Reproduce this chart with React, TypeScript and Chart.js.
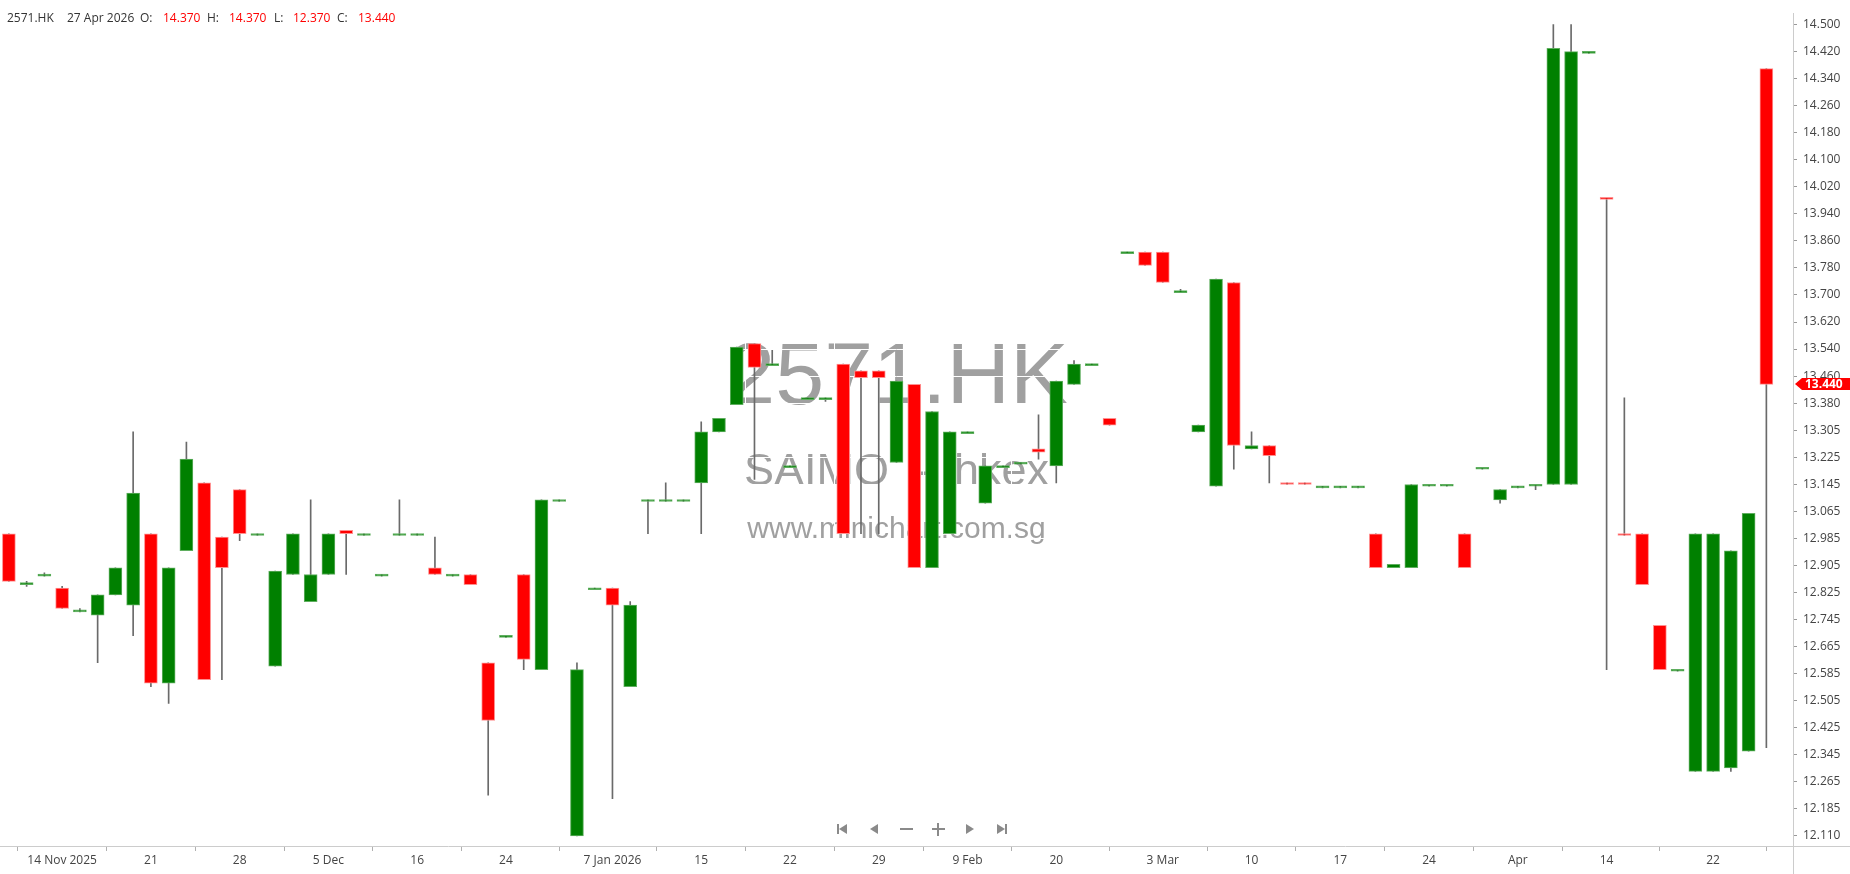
import React, { useEffect, useRef } from 'react';
import { Chart, registerables } from 'chart.js';

Chart.register(...registerables);

// ---------------- data ----------------
const symbol = '2571.HK';
const exchangeMark = 'SAIMO  -  hkex';
const siteMark = 'www.minichart.com.sg';

const dates = [
  '2025-11-11', '2025-11-12', '2025-11-13', '2025-11-14', '2025-11-17', '2025-11-18', '2025-11-19', '2025-11-20', '2025-11-21', '2025-11-24',
  '2025-11-25', '2025-11-26', '2025-11-27', '2025-11-28', '2025-12-01', '2025-12-02', '2025-12-03', '2025-12-04', '2025-12-05', '2025-12-08',
  '2025-12-09', '2025-12-11', '2025-12-15', '2025-12-16', '2025-12-17', '2025-12-19', '2025-12-22', '2025-12-23', '2025-12-24', '2025-12-29',
  '2025-12-30', '2025-12-31', '2026-01-02', '2026-01-05', '2026-01-07', '2026-01-08', '2026-01-09', '2026-01-12', '2026-01-13', '2026-01-15',
  '2026-01-16', '2026-01-19', '2026-01-20', '2026-01-21', '2026-01-22', '2026-01-23', '2026-01-26', '2026-01-27', '2026-01-28', '2026-01-29',
  '2026-01-30', '2026-02-03', '2026-02-04', '2026-02-06', '2026-02-09', '2026-02-10', '2026-02-11', '2026-02-12', '2026-02-16', '2026-02-20',
  '2026-02-23', '2026-02-24', '2026-02-25', '2026-02-27', '2026-03-02', '2026-03-03', '2026-03-04', '2026-03-05', '2026-03-06', '2026-03-09',
  '2026-03-10', '2026-03-11', '2026-03-12', '2026-03-13', '2026-03-16', '2026-03-17', '2026-03-18', '2026-03-19', '2026-03-20', '2026-03-23',
  '2026-03-24', '2026-03-25', '2026-03-26', '2026-03-27', '2026-03-30', '2026-04-01', '2026-04-02', '2026-04-08', '2026-04-09', '2026-04-10',
  '2026-04-14', '2026-04-15', '2026-04-16', '2026-04-17', '2026-04-20', '2026-04-21', '2026-04-22', '2026-04-23', '2026-04-24', '2026-04-27',
];

const opens = [
  13.00, 12.85, 12.875, 12.84, 12.77, 12.76, 12.82, 12.79, 13.00, 12.56,
  12.95, 13.15, 12.99, 13.13, 12.995, 12.61, 12.88, 12.80, 12.88, 13.01,
  12.995, 12.875, 12.995, 12.995, 12.90, 12.875, 12.88, 12.62, 12.695, 12.88,
  12.60, 13.095, 12.11, 12.835, 12.84, 12.55, 13.095, 13.095, 13.095, 13.15,
  13.30, 13.38, 13.56, 13.495, 13.195, 13.395, 13.395, 13.50, 13.48, 13.48,
  13.21, 13.44, 12.90, 13.00, 13.295, 13.09, 13.195, 13.205, 13.25, 13.20,
  13.44, 13.495, 13.34, 13.825, 13.83, 13.83, 13.71, 13.30, 13.14, 13.74,
  13.25, 13.26, 13.15, 13.15, 13.135, 13.135, 13.135, 13.00, 12.90, 12.90,
  13.14, 13.14, 13.00, 13.19, 13.10, 13.135, 13.14, 13.145, 13.145, 14.415,
  13.99, 13.00, 13.00, 12.73, 12.595, 12.30, 12.30, 12.31, 12.36, 14.37,
];

const highs = [
  13.00, 12.86, 12.885, 12.845, 12.78, 12.82, 12.90, 13.30, 13.00, 12.90,
  13.27, 13.15, 12.99, 13.13, 13.00, 12.89, 13.00, 13.10, 13.00, 13.01,
  13.00, 12.88, 13.10, 13.00, 12.99, 12.88, 12.88, 12.62, 12.70, 12.88,
  13.10, 13.10, 12.62, 12.84, 12.84, 12.80, 13.10, 13.15, 13.10, 13.33,
  13.34, 13.55, 13.56, 13.54, 13.20, 13.40, 13.40, 13.50, 13.48, 13.48,
  13.45, 13.44, 13.36, 13.30, 13.30, 13.20, 13.20, 13.21, 13.35, 13.45,
  13.51, 13.50, 13.34, 13.83, 13.83, 13.83, 13.72, 13.32, 13.75, 13.74,
  13.30, 13.26, 13.15, 13.15, 13.14, 13.14, 13.14, 13.00, 12.91, 13.145,
  13.145, 13.145, 13.00, 13.195, 13.13, 13.14, 13.145, 14.50, 14.50, 14.42,
  13.99, 13.40, 13.00, 12.73, 12.60, 13.00, 13.00, 12.95, 13.06, 14.37,
];

const lows = [
  12.86, 12.845, 12.875, 12.78, 12.77, 12.62, 12.82, 12.70, 12.55, 12.50,
  12.95, 12.57, 12.57, 12.98, 12.995, 12.61, 12.88, 12.80, 12.88, 12.88,
  12.995, 12.875, 12.995, 12.995, 12.88, 12.875, 12.85, 12.23, 12.695, 12.60,
  12.60, 13.095, 12.11, 12.835, 12.22, 12.55, 13.00, 13.095, 13.095, 13.00,
  13.30, 13.38, 13.16, 13.495, 13.195, 13.395, 13.39, 13.00, 13.00, 13.00,
  13.21, 12.90, 12.90, 13.00, 13.295, 13.09, 13.195, 13.205, 13.22, 13.15,
  13.44, 13.495, 13.32, 13.825, 13.79, 13.74, 13.71, 13.30, 13.14, 13.19,
  13.25, 13.15, 13.145, 13.145, 13.135, 13.135, 13.135, 12.90, 12.90, 12.90,
  13.14, 13.14, 12.90, 13.19, 13.09, 13.135, 13.13, 13.145, 13.145, 14.415,
  12.60, 12.995, 12.85, 12.60, 12.595, 12.30, 12.30, 12.30, 12.36, 12.37,
];

const closes = [
  12.86, 12.855, 12.88, 12.78, 12.775, 12.82, 12.90, 13.12, 12.56, 12.90,
  13.22, 12.57, 12.90, 13.00, 13.00, 12.89, 13.00, 12.88, 13.00, 13.00,
  13.00, 12.88, 13.00, 13.00, 12.88, 12.88, 12.85, 12.45, 12.70, 12.63,
  13.10, 13.10, 12.60, 12.84, 12.79, 12.79, 13.10, 13.10, 13.10, 13.30,
  13.34, 13.55, 13.49, 13.50, 13.20, 13.40, 13.40, 13.00, 13.46, 13.46,
  13.45, 12.90, 13.36, 13.30, 13.30, 13.20, 13.20, 13.21, 13.24, 13.45,
  13.50, 13.50, 13.32, 13.83, 13.79, 13.74, 13.715, 13.32, 13.75, 13.26,
  13.26, 13.23, 13.145, 13.145, 13.14, 13.14, 13.14, 12.90, 12.91, 13.145,
  13.145, 13.145, 12.90, 13.195, 13.13, 13.14, 13.145, 14.43, 14.42, 14.42,
  13.985, 12.995, 12.85, 12.60, 12.60, 13.00, 13.00, 12.95, 13.06, 13.44,
];

const xTickIndex = [3, 8, 13, 18, 23, 28, 34, 39, 44, 49, 54, 59, 65, 70, 75, 80, 85, 90, 96];
const xTickText = ['14 Nov 2025', '21', '28', '5 Dec', '16', '24', '7 Jan 2026', '15', '22', '29', '9 Feb', '20', '3 Mar', '10', '17', '24', 'Apr', '14', '22'];

const yTickText = [
  '14.500', '14.420', '14.340', '14.260', '14.180', '14.100', '14.020', '13.940', '13.860', '13.780',
  '13.700', '13.620', '13.540', '13.460', '13.380', '13.305', '13.225', '13.145', '13.065', '12.985',
  '12.905', '12.825', '12.745', '12.665', '12.585', '12.505', '12.425', '12.345', '12.265', '12.185', '12.110',
];

const monthNames = ['Jan', 'Feb', 'Mar', 'Apr', 'May', 'Jun', 'Jul', 'Aug', 'Sep', 'Oct', 'Nov', 'Dec'];

// ---------------- helpers ----------------
const GREEN = '#008000';
const RED = '#ff0000';
const W = 1850;
const H = 874;
const Y_AXIS_W = 57;
const X_AXIS_H = 28;

const n = dates.length;
const last = n - 1;
const yTop = Math.max(...highs);
const yBottom = Math.min(...lows);
const yRange = yTop - yBottom;
const isUp = closes.map((c, i) => c >= opens[i]);

function fmtDate(s: string) {
  const [y, m, d] = s.split('-').map(Number);
  return `${d} ${monthNames[m - 1]} ${y}`;
}

const watermarkPlugin = {
  id: 'watermark',
  beforeDraw(chart: any) {
    const { ctx, chartArea } = chart;
    const cx = (chartArea.left + chartArea.right) / 2;
    const cy = (chartArea.top + chartArea.bottom) / 2;
    ctx.save();
    ctx.fillStyle = '#a0a0a0';
    ctx.textAlign = 'center';
    ctx.textBaseline = 'alphabetic';
    ctx.font = '88px "Liberation Sans", Arial, sans-serif';
    ctx.fillText(symbol, cx + 1, cy - 26);
    ctx.font = '45px "Liberation Sans", Arial, sans-serif';
    ctx.fillText(exchangeMark, cx, cy + 55);
    ctx.font = '30px "Liberation Sans", Arial, sans-serif';
    ctx.fillText(siteMark, cx, cy + 108);
    ctx.restore();
  },
};

const extrasPlugin = {
  id: 'extras',
  afterDraw(chart: any) {
    const { ctx, chartArea, scales } = chart;
    ctx.save();
    // axis lines extended to the canvas edges
    ctx.strokeStyle = '#cccccc';
    ctx.lineWidth = 1;
    ctx.beginPath();
    ctx.moveTo(chartArea.right + 0.5, chartArea.bottom);
    ctx.lineTo(chartArea.right + 0.5, chart.height);
    ctx.moveTo(chartArea.right, chartArea.bottom + 0.5);
    ctx.lineTo(chart.width, chartArea.bottom + 0.5);
    ctx.stroke();

    // last price tag
    const py = Math.round(scales.y.getPixelForValue(closes[last]));
    const x0 = chartArea.right + 2;
    ctx.fillStyle = RED;
    ctx.beginPath();
    ctx.moveTo(x0, py);
    ctx.lineTo(x0 + 7, py - 6);
    ctx.lineTo(chart.width, py - 6);
    ctx.lineTo(chart.width, py + 6);
    ctx.lineTo(x0 + 7, py + 6);
    ctx.closePath();
    ctx.fill();
    ctx.fillStyle = '#ffffff';
    ctx.font = 'bold 12px "Open Sans", sans-serif';
    ctx.textAlign = 'left';
    ctx.textBaseline = 'middle';
    ctx.fillText(closes[last].toFixed(3), x0 + 10, py + 0.5);

    // navigation icons
    const cy = chartArea.bottom - 17;
    const cx0 = (chartArea.left + chartArea.right) / 2 - 54.5;
    const step = 32;
    ctx.fillStyle = '#8a8a8a';
    const tri = (ax: number, ay: number, bx: number, by: number, cx: number, cyy: number) => {
      ctx.beginPath();
      ctx.moveTo(ax, ay);
      ctx.lineTo(bx, by);
      ctx.lineTo(cx, cyy);
      ctx.closePath();
      ctx.fill();
    };
    let x = cx0;
    ctx.fillRect(x - 5, cy - 5, 2, 10);
    tri(x - 3, cy, x + 5, cy - 5, x + 5, cy + 5);
    x += step;
    tri(x - 4, cy, x + 4, cy - 5, x + 4, cy + 5);
    x += step;
    ctx.fillRect(x - 6, cy - 1, 13, 2);
    x += step;
    ctx.fillRect(x - 6, cy - 1, 13, 2);
    ctx.fillRect(x - 1, cy - 6, 2, 13);
    x += step;
    tri(x + 4, cy, x - 4, cy - 5, x - 4, cy + 5);
    x += step;
    tri(x + 3, cy, x - 5, cy - 5, x - 5, cy + 5);
    ctx.fillRect(x + 3, cy - 5, 2, 10);
    ctx.restore();
  },
};

export default function App() {
  const canvasRef = useRef<HTMLCanvasElement | null>(null);

  useEffect(() => {
    document.body.style.margin = '0';
    const canvas = canvasRef.current;
    if (!canvas) return;

    const wickData = dates.map((_, i) => ({ x: i, y: [lows[i], highs[i]] }));
    const bodyData = dates.map((_, i) => ({ x: i, y: [opens[i], closes[i]] }));

    const chart = new Chart(canvas, {
      type: 'bar',
      data: {
        datasets: [
          {
            label: 'wick',
            data: wickData as any,
            backgroundColor: '#6a6a6a',
            barThickness: 1,
            grouped: false,
            order: 2,
          } as any,
          {
            label: 'body',
            data: bodyData as any,
            backgroundColor: isUp.map((u) => (u ? GREEN : RED)),
            borderColor: isUp.map((u) => (u ? '#5fae5f' : '#ff9090')),
            borderWidth: 1,
            borderSkipped: false,
            barThickness: 13,
            minBarLength: 2,
            grouped: false,
            order: 1,
          } as any,
        ],
      },
      plugins: [watermarkPlugin, extrasPlugin],
      options: {
        animation: false,
        responsive: false,
        devicePixelRatio: 1,
        layout: { padding: 0 },
        plugins: {
          legend: { display: false },
          tooltip: { enabled: false },
        },
        scales: {
          x: {
            type: 'linear',
            min: -0.5,
            max: n + 0.5,
            offset: false,
            afterBuildTicks: (s: any) => {
              s.ticks = xTickIndex.map((v) => ({ value: v }));
            },
            afterFit: (s: any) => {
              s.height = X_AXIS_H;
            },
            ticks: {
              autoSkip: false,
              maxRotation: 0,
              padding: 2,
              color: '#444444',
              font: { family: '"Open Sans", sans-serif', size: 12 },
              callback: (v: any) => {
                const k = xTickIndex.indexOf(Number(v));
                return k >= 0 ? xTickText[k] : null;
              },
            },
            grid: { color: '#ffffff', tickColor: '#b0b0b0', tickLength: 5, drawOnChartArea: true },
            border: { color: '#cccccc' },
          },
          y: {
            type: 'linear',
            position: 'right',
            min: yBottom - yRange * 0.0124,
            max: yTop + yRange * 0.0139,
            afterBuildTicks: (s: any) => {
              const m = yTickText.length - 1;
              s.ticks = yTickText.map((_, i) => ({ value: yTop - (i * yRange) / m }));
            },
            afterFit: (s: any) => {
              s.width = Y_AXIS_W;
            },
            ticks: {
              padding: 6,
              color: '#444444',
              font: { family: '"Open Sans", sans-serif', size: 12 },
              callback: (_v: any, i: number) => yTickText[i],
            },
            grid: { color: '#ffffff', tickColor: '#999999', tickLength: 4 },
            border: { color: '#cccccc' },
          },
        },
      } as any,
    });

    return () => chart.destroy();
  }, []);

  const lab = { position: 'absolute' as const, top: 10, color: '#333333', whiteSpace: 'nowrap' as const };
  const val = { ...lab, color: RED };

  return (
    <div
      style={{
        position: 'relative',
        width: W,
        height: H,
        background: '#ffffff',
        fontFamily: '"Open Sans", sans-serif',
        fontSize: 12,
        lineHeight: '16px',
        overflow: 'hidden',
      }}
    >
      <canvas ref={canvasRef} width={W} height={H} style={{ display: 'block', width: W, height: H }} />
      <span style={{ ...lab, left: 7 }}>{symbol}</span>
      <span style={{ ...lab, left: 67 }}>{fmtDate(dates[last])}</span>
      <span style={{ ...lab, left: 140 }}>O:</span>
      <span style={{ ...val, left: 163 }}>{opens[last].toFixed(3)}</span>
      <span style={{ ...lab, left: 207 }}>H:</span>
      <span style={{ ...val, left: 229 }}>{highs[last].toFixed(3)}</span>
      <span style={{ ...lab, left: 274 }}>L:</span>
      <span style={{ ...val, left: 293 }}>{lows[last].toFixed(3)}</span>
      <span style={{ ...lab, left: 337 }}>C:</span>
      <span style={{ ...val, left: 358 }}>{closes[last].toFixed(3)}</span>
    </div>
  );
}
